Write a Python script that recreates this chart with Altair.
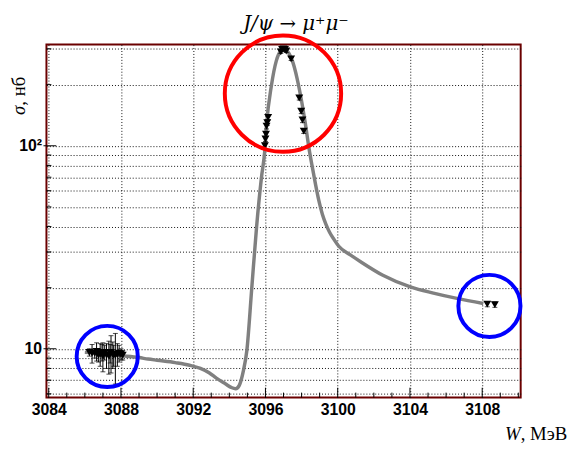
import altair as alt
import pandas as pd

# ---- data ----
curve_w = [3086.0, 3086.5, 3087.0, 3088.0, 3089.0, 3089.5, 3090.0, 3091.0, 3091.8, 3092.4,
           3092.9, 3093.3, 3093.8, 3094.1, 3094.35, 3094.55, 3094.78, 3094.97, 3095.24, 3095.51,
           3095.78, 3095.96, 3096.06, 3096.33, 3096.6, 3096.85, 3097.06, 3097.3, 3097.51,
           3097.75, 3097.97, 3098.2, 3098.42, 3098.6, 3098.78, 3098.95, 3099.15, 3099.35,
           3099.55, 3099.8, 3100.06, 3100.7, 3101.33, 3102.5, 3104.06, 3105.3, 3106.6, 3108.06]
curve_s = [9.6, 9.55, 9.45, 9.25, 9.05, 8.9, 8.78, 8.55, 8.3, 8.0,
           7.6, 7.15, 6.7, 6.45, 6.35, 6.6, 7.8, 9.8, 19.8, 40.0,
           70.0, 94.0, 127.0, 198.0, 262.0, 293.0, 300.0, 285.0, 259.0,
           215.0, 172.0, 130.0, 96.0, 78.0, 64.0, 54.0, 46.0, 41.0,
           37.5, 34.5, 32.0, 29.0, 26.6, 23.0, 20.1, 18.8, 17.7, 16.7]

pts_w = [3086.25, 3086.4, 3086.55, 3086.65, 3086.75, 3086.85, 3086.95, 3087.0, 3087.1, 3087.2,
         3087.33, 3087.4, 3087.45, 3087.55, 3087.6, 3087.69, 3087.8, 3087.9, 3088.0, 3088.1,
         3095.97, 3096.0, 3096.03, 3096.06, 3096.1, 3096.15,
         3096.85, 3096.92, 3097.0, 3097.08, 3097.15, 3097.42,
         3097.87, 3097.98, 3098.05, 3098.12,
         3108.28, 3108.7]
pts_s = [9.6, 9.5, 9.5, 9.7, 9.3, 9.4, 9.6, 9.2, 9.6, 9.3,
         9.2, 9.5, 9.6, 9.4, 9.3, 9.3, 9.4, 9.5, 9.4, 9.3,
         100.0, 108.0, 114.0, 125.0, 130.0, 138.0,
         290.0, 298.0, 300.0, 298.0, 293.0, 268.0,
         172.0, 148.0, 134.0, 118.0,
         16.6, 16.5]
pts_e = [0.4, 1.0, 0.5, 1.0, 0.7, 1.2, 0.9, 1.5, 0.8, 1.3,
         1.7, 1.0, 2.0, 1.4, 1.1, 2.6, 1.2, 0.9, 0.6, 0.5,
         3.0, 3.0, 3.0, 4.0, 4.0, 4.0,
         5.0, 5.0, 5.0, 5.0, 5.0, 5.0,
         4.0, 4.0, 4.0, 3.0,
         0.5, 0.5]

ring_w = [3096.97, 3087.24, 3108.40]
ring_s = [180.7, 9.17, 16.26]
ring_color = ["#ff0000", "#0000ff", "#0000ff"]
ring_size = [13924, 3844, 3969]

x_major = [3084, 3088, 3092, 3096, 3100, 3104, 3108]
x_minor = [v for v in range(3085, 3111) if v not in x_major]
y_grid = [6, 7, 8, 9, 10, 20, 30, 40, 50, 60, 70, 80, 90, 100, 200, 300]
y_major = [10, 100]
y_minor = [v for v in y_grid if v not in y_major]

title_text = "J/ψ → μ⁺μ⁻"

# ---- tables ----
curve = pd.DataFrame({"W": curve_w, "s": curve_s})
pts = pd.DataFrame({"W": pts_w, "s": pts_s, "e": pts_e})
pts["lo"] = pts["s"] - pts["e"]
pts["hi"] = pts["s"] + pts["e"]
rings = pd.DataFrame({"W": ring_w, "s": ring_s, "c": ring_color, "sz": ring_size})

xs = alt.Scale(domain=[3083.875, 3110.13], nice=False, zero=False)
ys = alt.Scale(type="log", domain=[5.75, 315], nice=False)

LBL = dict(labelFont="Liberation Sans", labelFontSize=16, labelFontWeight="bold",
           labelColor="black", grid=True, gridColor="#111", gridDash=[1, 2],
           gridWidth=1, tickSize=0, domain=False, title=None)

x_axis = alt.Axis(values=x_major, format="d", labelPadding=4, labelFlush=False, **LBL)
y_axis = alt.Axis(values=y_grid, labelPadding=5,
                  labelExpr="datum.value == 10 ? '10' : (datum.value == 100 ? '10²' : '')",
                  **LBL)

line = alt.Chart(curve).mark_line(color="#808080", strokeWidth=3.5, interpolate="monotone").encode(
    x=alt.X("W:Q", scale=xs, axis=x_axis),
    y=alt.Y("s:Q", scale=ys, axis=y_axis),
)

err = alt.Chart(pts).mark_rule(color="black", strokeWidth=1).encode(
    x=alt.X("W:Q", scale=xs), y=alt.Y("lo:Q", scale=ys), y2="hi:Q")
cap_lo = alt.Chart(pts).mark_tick(color="black", orient="horizontal", size=5, thickness=1).encode(
    x=alt.X("W:Q", scale=xs), y=alt.Y("lo:Q", scale=ys))
cap_hi = alt.Chart(pts).mark_tick(color="black", orient="horizontal", size=5, thickness=1).encode(
    x=alt.X("W:Q", scale=xs), y=alt.Y("hi:Q", scale=ys))

marks = alt.Chart(pts).mark_point(shape="triangle-down", filled=True, size=65,
                                  color="black", opacity=1).encode(
    x=alt.X("W:Q", scale=xs), y=alt.Y("s:Q", scale=ys))

circ = alt.Chart(rings).mark_point(shape="circle", filled=False, strokeWidth=4, opacity=1).encode(
    x=alt.X("W:Q", scale=xs), y=alt.Y("s:Q", scale=ys),
    color=alt.Color("c:N", scale=None), size=alt.Size("sz:Q", scale=None))

# inner ticks (ROOT style)
xt_major = alt.Chart(pd.DataFrame({"W": x_major})).mark_rule(color="black").encode(
    x=alt.X("W:Q", scale=xs), y=alt.value(358), y2=alt.value(348))
xt_minor = alt.Chart(pd.DataFrame({"W": x_minor})).mark_rule(color="black").encode(
    x=alt.X("W:Q", scale=xs), y=alt.value(358), y2=alt.value(353))
yt_major = alt.Chart(pd.DataFrame({"s": y_major})).mark_rule(color="black").encode(
    y=alt.Y("s:Q", scale=ys), x=alt.value(-3), x2=alt.value(10))
yt_minor = alt.Chart(pd.DataFrame({"s": y_minor})).mark_rule(color="black").encode(
    y=alt.Y("s:Q", scale=ys), x=alt.value(0), x2=alt.value(5))

# titles (mixed italic / upright)
one = pd.DataFrame({"k": [0]})
SERIF = "Liberation Serif"
title_mark = alt.Chart(one).mark_text(text=title_text, font="DejaVu Serif", fontStyle="italic",
                                      fontSize=20, align="center", baseline="alphabetic",
                                      color="black").encode(
    x=alt.value(253), y=alt.value(-15))
xt_W = alt.Chart(one).mark_text(text="W", font=SERIF, fontStyle="italic", fontSize=19,
                                align="right", baseline="alphabetic").encode(
    x=alt.value(481), y=alt.value(401))
xt_u = alt.Chart(one).mark_text(text=", МэВ", font=SERIF, fontSize=19,
                                align="left", baseline="alphabetic").encode(
    x=alt.value(481), y=alt.value(401))
yt_s = alt.Chart(one).mark_text(text="σ", font=SERIF, fontStyle="italic", fontSize=19,
                                align="right", baseline="alphabetic", angle=270).encode(
    x=alt.value(-22), y=alt.value(62))
yt_u = alt.Chart(one).mark_text(text=", нб", font=SERIF, fontSize=19,
                                align="left", baseline="alphabetic", angle=270).encode(
    x=alt.value(-22), y=alt.value(62))

chart = alt.layer(
    line, err, cap_lo, cap_hi, marks, circ,
    xt_major, xt_minor, yt_major, yt_minor,
    title_mark, xt_W, xt_u, yt_s, yt_u,
).properties(
    width=481, height=358,
    autosize="none",
    padding={"left": 39, "top": 34, "right": 48, "bottom": 46},
).configure_view(stroke="#6b0000", strokeWidth=2)

chart.save("out.html", embed_options={"renderer": "svg", "actions": False})
